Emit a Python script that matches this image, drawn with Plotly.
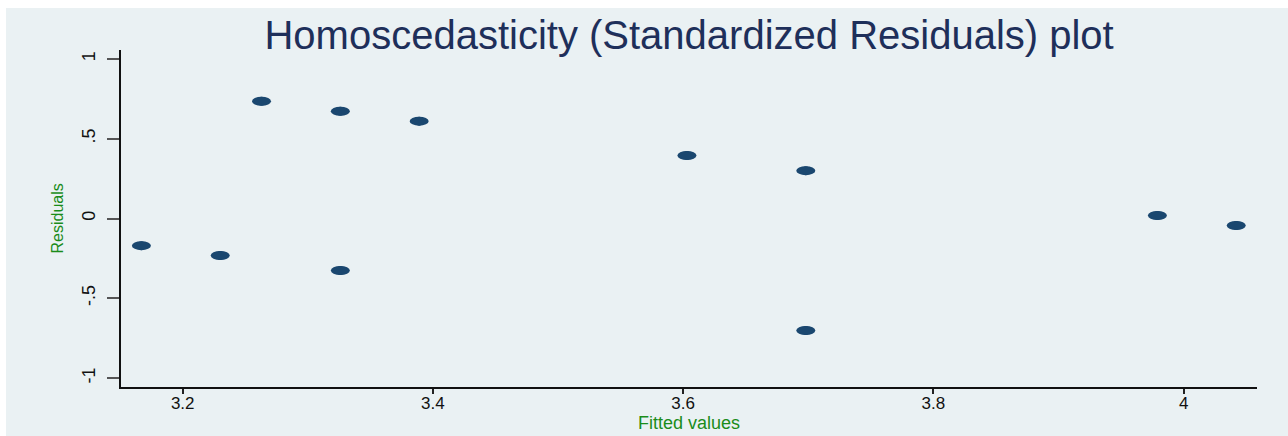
import plotly.graph_objects as go

# Fitted values and standardized residuals from the regression
fitted = [3.167, 3.230, 3.263, 3.326, 3.326, 3.389, 3.603, 3.698, 3.698, 3.979, 4.042]
residuals = [-0.170, -0.232, 0.735, 0.672, -0.326, 0.610, 0.395, 0.300, -0.702, 0.019, -0.044]

x_ticks = [3.2, 3.4, 3.6, 3.8, 4.0]
x_tick_labels = ["3.2", "3.4", "3.6", "3.8", "4"]
y_ticks = [-1, -0.5, 0, 0.5, 1]
y_tick_labels = ["-1", "-.5", "0", ".5", "1"]

BG = "#EAF1F3"
NAVY = "#1A476F"
TITLE = "#1E2F5A"
GREEN = "#1A8C1A"
FONT = "Liberation Sans, Arial, sans-serif"

W, H = 1288, 436
ML, MR, MT, MB = 121, 31, 50, 49
PW, PH = W - ML - MR, H - MT - MB

fig = go.Figure()
fig.add_trace(go.Scatter(
    x=fitted, y=residuals, mode="markers",
    marker=dict(color=NAVY, size=9, line=dict(width=0)),
    showlegend=False, hoverinfo="x+y",
))

shapes = []
# light background panel, leaving a thin white strip on the top and left edges
shapes.append(dict(
    type="rect", xref="paper", yref="paper", layer="below",
    x0=(6 - ML) / PW, x1=(W - ML) / PW,
    y0=-MB / PH, y1=(H - 8 - MB) / PH,
    fillcolor=BG, line=dict(width=0),
))
# elliptical markers, anchored at each data point
for fx, r in zip(fitted, residuals):
    shapes.append(dict(
        type="circle", xref="x", yref="y",
        xsizemode="pixel", ysizemode="pixel",
        xanchor=fx, yanchor=r,
        x0=-9.5, x1=9.5, y0=-4.5, y1=4.5,
        fillcolor=NAVY, line=dict(width=0),
    ))

annotations = [
    dict(text="Fitted values", xref="paper", yref="paper",
         x=(689 - ML) / PW, y=-(423 - (H - MB)) / PH,
         xanchor="center", yanchor="middle", showarrow=False,
         font=dict(family=FONT, size=18, color=GREEN)),
    dict(text="Residuals", xref="paper", yref="paper",
         x=(57 - ML) / PW, y=0.5, textangle=-90,
         xanchor="center", yanchor="middle", showarrow=False,
         font=dict(family=FONT, size=16, color=GREEN)),
]

fig.update_layout(
    width=W, height=H,
    margin=dict(l=ML, r=MR, t=MT, b=MB, pad=0),
    paper_bgcolor="white",
    plot_bgcolor=BG,
    font=dict(family=FONT, color="#111111"),
    title=dict(
        text="Homoscedasticity (Standardized Residuals) plot",
        font=dict(family=FONT, size=40, color=TITLE),
        x=0.535, xanchor="center", y=0.92, yanchor="middle",
    ),
    shapes=shapes,
    annotations=annotations,
    xaxis=dict(
        range=[3.1507, 4.0586],
        tickmode="array", tickvals=x_ticks, ticktext=x_tick_labels,
        ticks="outside", ticklen=5, tickwidth=1.5, tickcolor="#222222",
        tickfont=dict(size=17, color="#111111"),
        ticklabelstandoff=-5,
        showgrid=False, zeroline=False,
        showline=True, linecolor="#111111", linewidth=1.5,
        automargin=False, fixedrange=True,
    ),
    yaxis=dict(
        range=[-1.056, 1.056],
        tickmode="array", tickvals=y_ticks, ticktext=y_tick_labels,
        tickangle=-90,
        ticks="outside", ticklen=12, tickwidth=1.5, tickcolor="#555555",
        tickfont=dict(size=18, color="#111111"),
        ticklabelstandoff=5,
        showgrid=False, zeroline=False,
        showline=True, linecolor="#111111", linewidth=2,
        automargin=False, fixedrange=True,
    ),
)

fig.write_html("out.html")
